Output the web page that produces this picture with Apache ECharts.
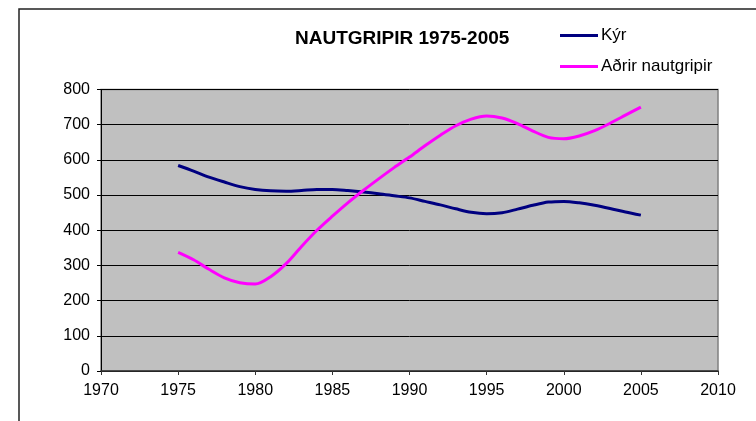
<!DOCTYPE html>
<html>
<head>
<meta charset="utf-8">
<script src="https://cdn.jsdelivr.net/npm/echarts@6/dist/echarts.min.js"></script>
<style>
  html, body { margin: 0; padding: 0; background: #fff; }
  #main { width: 756px; height: 421px; }
</style>
</head>
<body>
<div id="main"></div>
<script>
// 数据（按年读取）
var years = [1975, 1976, 1977, 1978, 1979, 1980, 1981, 1982, 1983, 1984, 1985, 1986, 1987, 1988, 1989, 1990,
             1991, 1992, 1993, 1994, 1995, 1996, 1997, 1998, 1999, 2000, 2001, 2002, 2003, 2004, 2005];
var kyr = [584, 568, 551, 537, 524, 516, 512, 511, 513, 516, 516, 513, 509, 504, 498, 492,
           482, 472, 461, 451, 447, 450, 460, 471, 480, 482, 478, 471, 462, 452, 443];
var adrir = [337, 316, 289, 265, 251, 247, 268, 305, 354, 400, 440, 478, 513, 546, 578, 608,
             640, 670, 697, 716, 725, 719, 703, 682, 664, 660, 668, 683, 704, 727, 750];
var seriesNames = ['Kýr', 'Aðrir nautgripir'];
var titleText = 'NAUTGRIPIR 1975-2005';

var font = '"Liberation Sans", Arial, sans-serif';

function pairs(vals) {
  return years.map(function (y, i) { return [y, vals[i]]; });
}

var chart = echarts.init(document.getElementById('main'));

var option = {
  backgroundColor: '#fff',
  animation: false,
  // 外框
  graphic: [{
    type: 'rect',
    shape: { x: 19, y: 9, width: 800, height: 500 },
    style: { fill: 'none', stroke: '#222', lineWidth: 1.5 },
    silent: true
  }],
  title: {
    text: titleText,
    left: 290,
    top: 24,
    textStyle: { fontFamily: font, fontSize: 19, fontWeight: 'bold', color: '#000' }
  },
  legend: {
    orient: 'vertical',
    left: 555,
    top: 22,
    itemWidth: 38,
    itemHeight: 3,
    itemGap: 14,
    icon: 'rect',
    textStyle: { fontFamily: font, fontSize: 17, color: '#000', padding: [0, 0, 0, -2] },
    data: seriesNames
  },
  grid: {
    left: 101,
    right: 38,
    top: 89.5,
    bottom: 50,
    show: true,
    backgroundColor: '#c0c0c0',
    borderColor: '#808080',
    borderWidth: 1.5
  },
  xAxis: {
    type: 'value',
    min: 1970,
    max: 2010,
    interval: 5,
    axisLine: { show: true, lineStyle: { color: '#333', width: 1.5 } },
    axisTick: { show: true, length: 4, lineStyle: { color: '#333' } },
    axisLabel: {
      fontFamily: font, fontSize: 16, color: '#000', margin: 12,
      formatter: function (v) { return String(v); }
    },
    splitLine: { show: false }
  },
  yAxis: {
    type: 'value',
    min: 0,
    max: 800,
    interval: 100,
    axisLine: { show: true, lineStyle: { color: '#000', width: 1 } },
    axisTick: { show: true, length: 4, lineStyle: { color: '#000' } },
    axisLabel: { fontFamily: font, fontSize: 16, color: '#000', margin: 11 },
    splitLine: { show: true, lineStyle: { color: '#000', width: 1 } }
  },
  series: [
    {
      name: seriesNames[0],
      type: 'line',
      smooth: 0.3,
      symbol: 'none',
      lineStyle: { color: '#000080', width: 3 },
      itemStyle: { color: '#000080' },
      data: pairs(kyr)
    },
    {
      name: seriesNames[1],
      type: 'line',
      smooth: 0.3,
      symbol: 'none',
      lineStyle: { color: '#ff00ff', width: 3 },
      itemStyle: { color: '#ff00ff' },
      data: pairs(adrir)
    }
  ]
};

chart.setOption(option);
</script>
</body>
</html>
